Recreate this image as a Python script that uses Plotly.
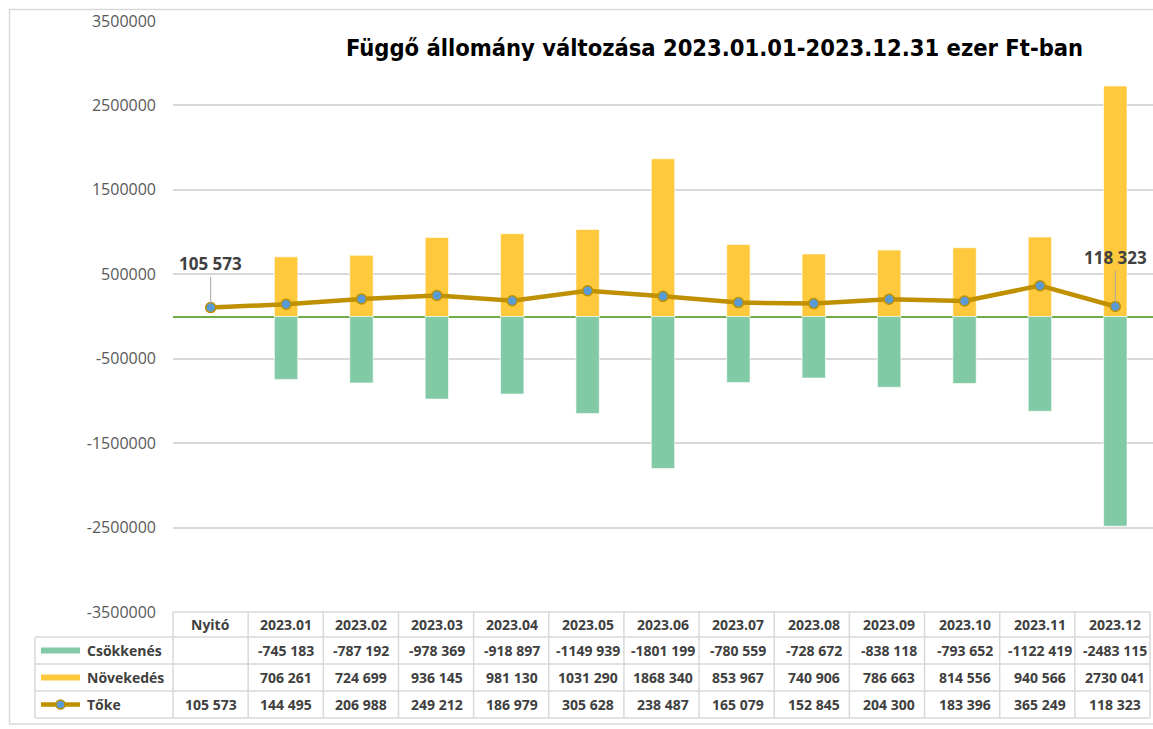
import plotly.graph_objects as go

categories = ["Nyitó", "2023.01", "2023.02", "2023.03", "2023.04", "2023.05", "2023.06",
              "2023.07", "2023.08", "2023.09", "2023.10", "2023.11", "2023.12"]
csokkenes = [None, -745183, -787192, -978369, -918897, -1149939, -1801199,
             -780559, -728672, -838118, -793652, -1122419, -2483115]
novekedes = [None, 706261, 724699, 936145, 981130, 1031290, 1868340,
             853967, 740906, 786663, 814556, 940566, 2730041]
toke = [105573, 144495, 206988, 249212, 186979, 305628, 238487,
        165079, 152845, 204300, 183396, 365249, 118323]
series_names = ["Csökkenés", "Növekedés", "Tőke"]
y_ticks = [-3500000, -2500000, -1500000, -500000, 500000, 1500000, 2500000, 3500000]
title_text = "Függő állomány változása 2023.01.01-2023.12.31 ezer Ft-ban"

C_GREEN = "#82CAA5"
C_YELLOW = "#FFC93D"
C_LINE = "#BF9000"
C_MARK = "#5B9BD5"
GRID = "#D9D9D9"
TXT = "#404040"

W, H = 1153, 729
PLOT_L, PLOT_R, PLOT_T, PLOT_B = 173, 1153, 21, 612
TAB_L, TAB_R = 35, 1150
ROW_EDGES = [612, 637, 664, 691, 718]


def fmt(v):
    if v is None:
        return ""
    s = str(abs(v))
    if len(s) > 3:
        s = s[:-3] + "\u00a0" + s[-3:]
    return ("-" if v < 0 else "") + s


def px_x(p):
    return p / W


def px_y(p):
    return (H - p) / H


fig = go.Figure()
fig.add_trace(go.Bar(x=categories, y=novekedes, name=series_names[1], marker_color=C_YELLOW,
                     marker_line=dict(color="rgba(255,255,255,0.6)", width=1), width=0.31))
fig.add_trace(go.Bar(x=categories, y=csokkenes, name=series_names[0], marker_color=C_GREEN,
                     marker_line=dict(color="rgba(255,255,255,0.6)", width=1), width=0.31))
fig.add_trace(go.Scatter(x=categories, y=toke, name=series_names[2], mode="lines+markers",
                         line=dict(color=C_LINE, width=4.5),
                         marker=dict(color=C_MARK, size=10, line=dict(color=C_LINE, width=1.5))))

fig.update_layout(
    width=W, height=H,
    margin=dict(l=0, r=0, t=0, b=0),
    paper_bgcolor="white", plot_bgcolor="white",
    barmode="overlay",
    showlegend=False,
    xaxis=dict(domain=[px_x(PLOT_L), 1.0], range=[-0.5, len(categories) - 0.5], showticklabels=False,
               showgrid=False, zeroline=False, showline=False, type="category", automargin=False),
    yaxis=dict(domain=[px_y(PLOT_B), px_y(PLOT_T)], range=[y_ticks[0], y_ticks[-1]],
               tickvals=y_ticks, ticktext=[str(v) for v in y_ticks],
               showgrid=True, gridcolor=GRID, gridwidth=1.5,
               zeroline=True, zerolinecolor="#70AD47", zerolinewidth=2,
               showline=False, ticks="", ticklabelstandoff=16, automargin=False,
               tickfont=dict(family="Open Sans", size=16, color="#595959")),
)

# title
fig.add_annotation(text=title_text, xref="paper", yref="paper", x=px_x(714), y=px_y(48),
                   showarrow=False, xanchor="center", yanchor="middle",
                   font=dict(family="DejaVu Sans Condensed", size=23.5,
                             color="black", weight="bold"))

# data labels with leader lines (x given as category index)
for idx, ay in ((0, -44), (len(categories) - 1, -49)):
    fig.add_annotation(x=idx, y=toke[idx], xref="x", yref="y",
                       text=f"<b>{fmt(toke[idx])}</b>",
                       showarrow=True, arrowhead=0, arrowwidth=1, arrowcolor="#A6A6A6",
                       ax=0, ay=ay, standoff=4,
                       font=dict(family="Open Sans", size=17, color=TXT))

# ---- data table (drawn with lines + text) ----
line_style = dict(color=GRID, width=1.5)
col_w = (TAB_R - PLOT_L) / len(categories)
fig.add_shape(type="line", xref="paper", yref="paper", x0=px_x(TAB_L), x1=px_x(TAB_L),
              y0=px_y(ROW_EDGES[1]), y1=px_y(ROW_EDGES[-1]), line=line_style)
for k in range(len(categories) + 1):
    xp = PLOT_L + k * col_w
    fig.add_shape(type="line", xref="paper", yref="paper", x0=px_x(xp), x1=px_x(xp),
                  y0=px_y(ROW_EDGES[0]), y1=px_y(ROW_EDGES[-1]), line=line_style)
for j, ye in enumerate(ROW_EDGES):
    x0 = PLOT_L if j == 0 else TAB_L
    fig.add_shape(type="line", xref="paper", yref="paper", x0=px_x(x0), x1=px_x(TAB_R),
                  y0=px_y(ye), y1=px_y(ye), line=line_style)

row_centers = [(ROW_EDGES[i] + ROW_EDGES[i + 1]) / 2 for i in range(4)]
tfont = dict(family="Open Sans", size=14, color=TXT)
rows = [categories, [fmt(v) for v in csokkenes], [fmt(v) for v in novekedes], [fmt(v) for v in toke]]
for r, vals in enumerate(rows):
    for i, txt in enumerate(vals):
        if not txt:
            continue
        fig.add_annotation(text=f"<b>{txt}</b>", xref="x", yref="paper", x=i,
                           y=px_y(row_centers[r]), showarrow=False, xanchor="center",
                           yanchor="middle", font=tfont)

# legend keys in the table
for name, yc in zip(series_names, row_centers[1:]):
    fig.add_annotation(text=f"<b>{name}</b>", xref="paper", yref="paper", x=px_x(85), y=px_y(yc),
                       showarrow=False, xanchor="left", yanchor="middle", font=tfont)
fig.add_shape(type="rect", xref="paper", yref="paper", x0=px_x(41), x1=px_x(80),
              y0=px_y(row_centers[1] + 3), y1=px_y(row_centers[1] - 3), fillcolor=C_GREEN, line_width=0)
fig.add_shape(type="rect", xref="paper", yref="paper", x0=px_x(41), x1=px_x(80),
              y0=px_y(row_centers[2] + 3), y1=px_y(row_centers[2] - 3), fillcolor=C_YELLOW, line_width=0)
fig.add_shape(type="line", xref="paper", yref="paper", x0=px_x(41), x1=px_x(80),
              y0=px_y(row_centers[3]), y1=px_y(row_centers[3]), line=dict(color=C_LINE, width=4.5))
fig.add_shape(type="circle", xref="paper", yref="paper", x0=px_x(56), x1=px_x(65),
              y0=px_y(row_centers[3] + 4.5), y1=px_y(row_centers[3] - 4.5), fillcolor=C_MARK,
              line=dict(color=C_LINE, width=1.5))

# chart border
fig.add_shape(type="rect", xref="paper", yref="paper", x0=px_x(9.5), x1=px_x(1170),
              y0=px_y(724), y1=px_y(9.5), line=dict(color=GRID, width=1.5), layer="below")

fig.write_html("out.html", config={"displayModeBar": False},
               post_script="document.body.style.margin='0';")
